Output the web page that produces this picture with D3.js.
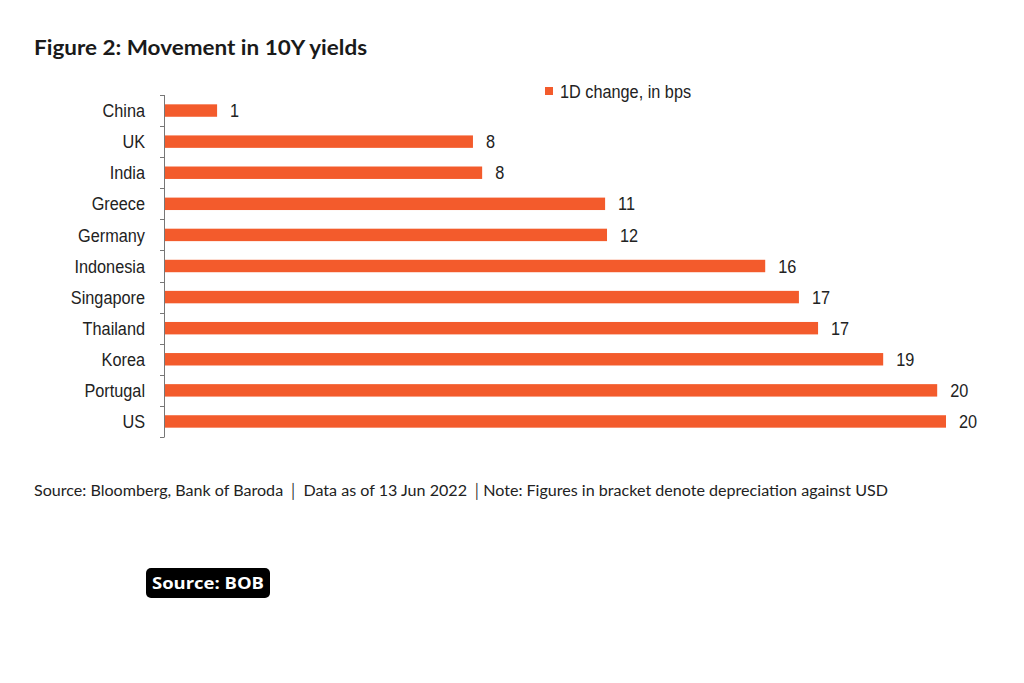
<!DOCTYPE html>
<html><head><meta charset="utf-8">
<script src="https://cdn.jsdelivr.net/npm/d3@7"></script>
<style>
html,body{margin:0;padding:0;background:#fff;}
svg{display:block;}
</style></head>
<body>
<svg id="chart" width="1024" height="683"></svg>
<script>
// ---- data ----
const categories = ["China","UK","India","Greece","Germany","Indonesia","Singapore","Thailand","Korea","Portugal","US"];
const values = [1.36, 8.04, 8.28, 11.49, 11.54, 15.67, 16.55, 17.05, 18.75, 20.16, 20.39];
const valueLabels = ["1","8","8","11","12","16","17","17","19","20","20"];
const seriesName = "1D change, in bps";
const titleText = "Figure 2: Movement in 10Y yields";
const footerText = "Source: Bloomberg, Bank of Baroda \u2502 Data as of 13 Jun 2022 \u2502Note: Figures in bracket denote depreciation against USD";
const badgeText = "Source: BOB";

const svg = d3.select("#chart");
const barColor = "#f35b2c";
const axisX = 164;
const narrow = 0.88;
const sans = "'Liberation Sans', Arial, sans-serif";

const x = d3.scaleLinear().domain([0, 20.39]).range([165, 946]);
const y = d3.scaleBand().domain(categories).range([95, 437]).paddingInner(0.6).paddingOuter(0.3);

// title
svg.append("text").attr("x", 34).attr("y", 55)
  .attr("font-family", "Lato, 'Open Sans', sans-serif").attr("font-weight", 700)
  .attr("font-size", 20.5).attr("fill", "#1a1a1a")
  .attr("textLength", 333).attr("lengthAdjust", "spacingAndGlyphs")
  .text(titleText);

// legend
svg.append("rect").attr("x", 545).attr("y", 87).attr("width", 8).attr("height", 8).attr("fill", barColor);
svg.append("text").attr("transform", `translate(560,97.5) scale(${narrow},1)`)
  .attr("font-family", sans).attr("font-size", 18.5).attr("fill", "#222")
  .text(seriesName);

// bars
svg.append("g").selectAll("rect").data(categories).join("rect")
  .attr("x", x(0))
  .attr("y", (d) => y(d))
  .attr("width", (d, i) => x(values[i]) - x(0))
  .attr("height", y.bandwidth())
  .attr("fill", barColor);

// value labels
svg.append("g").selectAll("text").data(categories).join("text")
  .attr("transform", (d, i) => `translate(${x(values[i]) + 13},${y(d) + y.bandwidth() / 2}) scale(${narrow},1)`)
  .attr("dy", "0.36em")
  .attr("font-family", sans).attr("font-size", 18.5).attr("fill", "#222")
  .text((d, i) => valueLabels[i]);

// y axis line and boundary ticks
const yTop = y.range()[0];
const yBot = y.range()[1];
const g = svg.append("g").attr("stroke", "#777").attr("stroke-width", 1);
g.append("line").attr("x1", axisX + 0.5).attr("x2", axisX + 0.5).attr("y1", yTop).attr("y2", yBot);
g.selectAll("line.tick").data(d3.range(categories.length + 1)).join("line")
  .attr("class", "tick")
  .attr("x1", axisX - 4).attr("x2", axisX + 0.5)
  .attr("y1", (i) => Math.round(yTop + i * (yBot - yTop) / categories.length) + 0.5)
  .attr("y2", (i) => Math.round(yTop + i * (yBot - yTop) / categories.length) + 0.5);

// category labels
svg.append("g").selectAll("text").data(categories).join("text")
  .attr("transform", (d) => `translate(145,${y(d) + y.bandwidth() / 2}) scale(${narrow},1)`)
  .attr("dy", "0.36em")
  .attr("text-anchor", "end")
  .attr("font-family", sans).attr("font-size", 18.5).attr("fill", "#222")
  .text((d) => d);

// footer
svg.append("text").attr("x", 34).attr("y", 496)
  .attr("font-family", "Lato, 'Open Sans', sans-serif").attr("font-size", 15.5).attr("fill", "#222")
  .attr("textLength", 854).attr("lengthAdjust", "spacingAndGlyphs")
  .text(footerText);

// badge
svg.append("rect").attr("x", 146).attr("y", 568).attr("width", 124).attr("height", 30).attr("rx", 5).attr("fill", "#000");
svg.append("text").attr("x", 208).attr("y", 589)
  .attr("text-anchor", "middle")
  .attr("font-family", "'Open Sans', Lato, sans-serif").attr("font-weight", 700).attr("font-size", 16)
  .attr("fill", "#fff")
  .attr("textLength", 112).attr("lengthAdjust", "spacingAndGlyphs")
  .text(badgeText);
</script>
</body></html>
